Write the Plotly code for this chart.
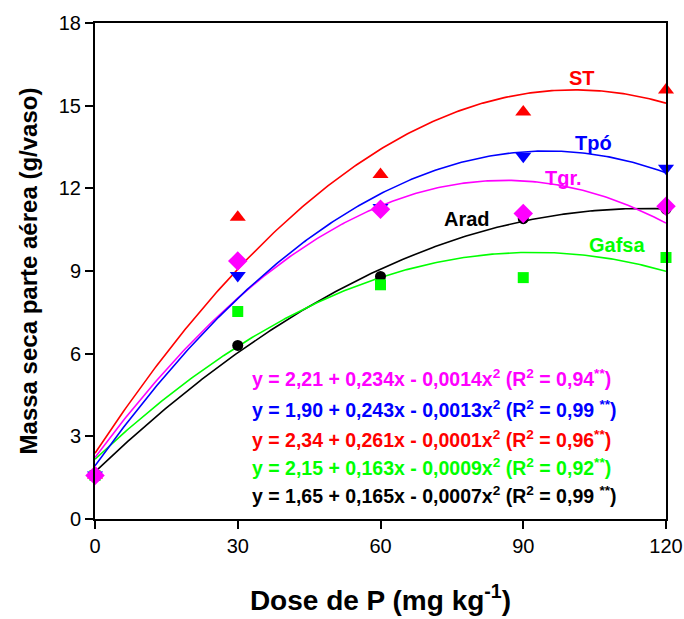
import numpy as np
import plotly.graph_objects as go

doses = [0, 30, 60, 90, 120]
series_names = ["Arad", "Gafsa", "ST", "Tpó", "Tgr."]
arad = [1.62, 6.30, 8.80, 10.90, 11.25]
gafsa = [1.58, 7.53, 8.50, 8.76, 9.49]
st = [1.60, 10.95, 12.50, 14.77, 15.57]
tpo = [1.60, 8.84, 11.30, 13.16, 12.73]
tgr = [1.58, 9.36, 11.24, 11.09, 11.35]

values = {"Arad": arad, "Gafsa": gafsa, "ST": st, "Tpó": tpo, "Tgr.": tgr}
colors = {"Arad": "#000000", "Gafsa": "#00FF00", "ST": "#FF0000", "Tpó": "#0000FF", "Tgr.": "#FF00FF"}
symbols = {"Arad": "circle", "Gafsa": "square", "ST": "triangle-up", "Tpó": "triangle-down", "Tgr.": "diamond"}
sizes = {"Arad": 11, "Gafsa": 11, "ST": 14, "Tpó": 14, "Tgr.": 15}

label_pos = {"ST": (102.3, 16.0), "Tpó": (104.8, 13.64), "Tgr.": (98.5, 12.37),
             "Arad": (78.1, 10.89), "Gafsa": (109.7, 9.94)}

equations = [
    ("Tgr.", "y = 2,21 + 0,234x - 0,0014x<sup>2</sup> (R<sup>2</sup> = 0,94<sup>**</sup>)", 5.12),
    ("Tpó", "y = 1,90 + 0,243x - 0,0013x<sup>2</sup> (R<sup>2</sup> = 0,99 <sup>**</sup>)", 3.99),
    ("ST", "y = 2,34 + 0,261x - 0,0001x<sup>2</sup> (R<sup>2</sup> = 0,96<sup>**</sup>)", 2.90),
    ("Gafsa", "y = 2,15 + 0,163x - 0,0009x<sup>2</sup> (R<sup>2</sup> = 0,92<sup>**</sup>)", 1.89),
    ("Arad", "y = 1,65 + 0,165x - 0,0007x<sup>2</sup> (R<sup>2</sup> = 0,99 <sup>**</sup>)", 0.87),
]

fig = go.Figure()
xs = np.linspace(0, 120, 241)
for name in ["Arad", "Gafsa", "Tgr.", "Tpó", "ST"]:
    coef = np.polyfit(doses, values[name], 2)
    fig.add_trace(go.Scatter(x=xs, y=np.polyval(coef, xs), mode="lines",
                             line=dict(color=colors[name], width=1.6),
                             showlegend=False, hoverinfo="skip"))
for name in ["Arad", "Gafsa", "ST", "Tpó", "Tgr."]:
    fig.add_trace(go.Scatter(x=doses, y=values[name], mode="markers", name=name,
                             marker=dict(symbol=symbols[name], size=sizes[name],
                                         color=colors[name], line=dict(width=0)),
                             showlegend=False, cliponaxis=False))

for name, (lx, ly) in label_pos.items():
    fig.add_annotation(x=lx, y=ly, text="<b>%s</b>" % name, showarrow=False,
                       font=dict(family="Liberation Sans, Arial", size=20, color=colors[name]),
                       xanchor="center", yanchor="middle")

for name, txt, ey in equations:
    fig.add_annotation(x=32.6, y=ey, text="<b>%s</b>" % txt, showarrow=False,
                       font=dict(family="Liberation Sans, Arial", size=19.5, color=colors[name]),
                       xanchor="left", yanchor="middle")

axis_common = dict(showline=True, linecolor="black", linewidth=2, mirror=True,
                   ticks="outside", ticklen=8, tickwidth=2, tickcolor="black",
                   showgrid=False, zeroline=False, automargin=False,
                   tickfont=dict(family="Liberation Sans, Arial", size=20, color="black"))

fig.update_xaxes(range=[0, 120], tickvals=doses, **axis_common,
                 title=dict(text="<b>Dose de P (mg kg<sup>-1</sup>)</b>", standoff=34,
                            font=dict(family="Liberation Sans, Arial", size=28, color="black")))
fig.update_yaxes(range=[0, 18], tickvals=[0, 3, 6, 9, 12, 15, 18], **axis_common,
                 title=dict(text="<b>Massa seca parte aérea (g/vaso)</b>", standoff=14,
                            font=dict(family="Liberation Sans, Arial", size=24, color="black")))

fig.update_layout(width=684, height=619, margin=dict(l=95, r=18, t=23, b=100),
                  plot_bgcolor="white", paper_bgcolor="white")
fig.write_html("out.html")
